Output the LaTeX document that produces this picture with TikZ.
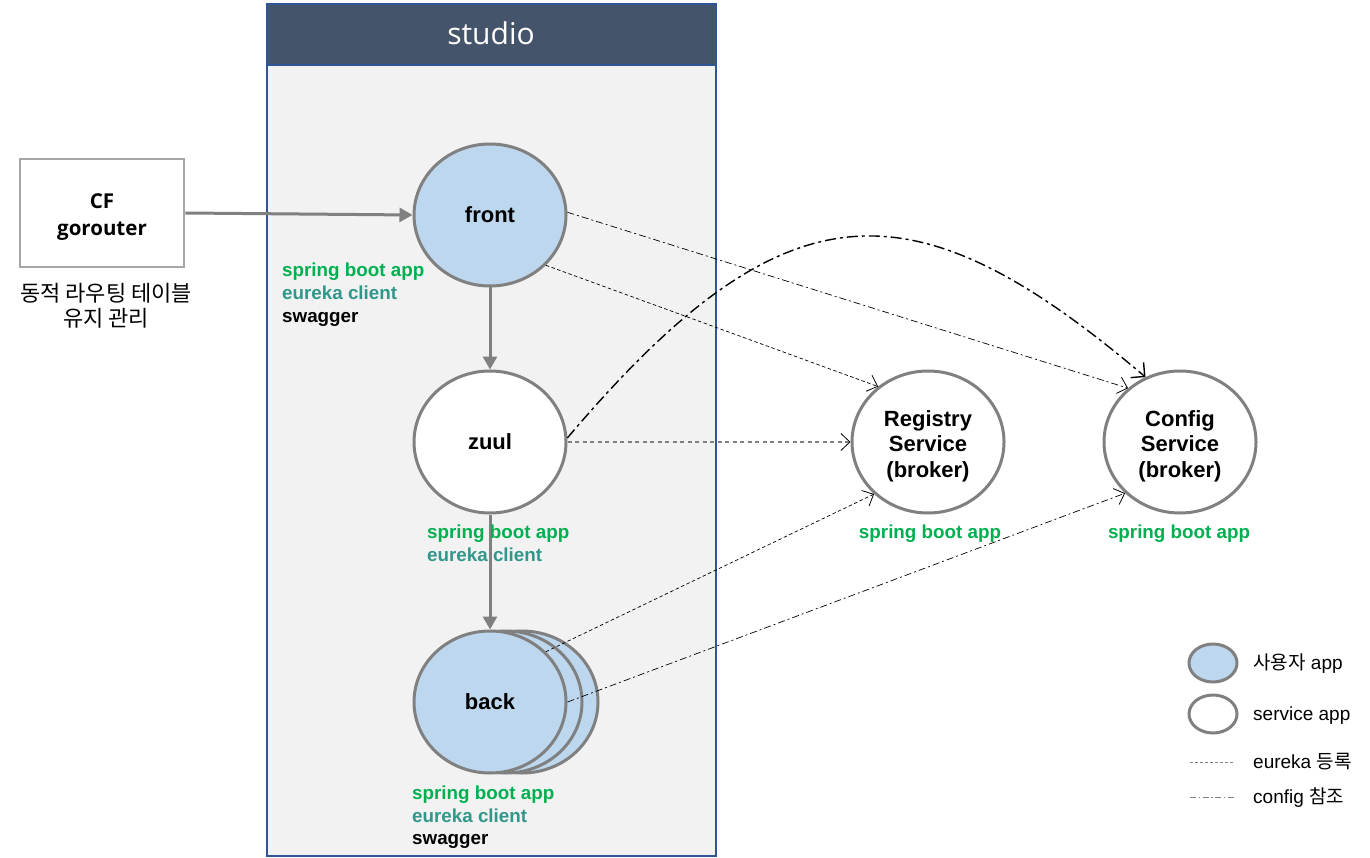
\documentclass[tikz,border=0pt]{standalone}
\usepackage{fontspec}
\setmainfont{Liberation Sans}
\newfontfamily\kr{Noto Sans CJK KR}
\newfontfamily\os{Open Sans}
\usetikzlibrary{shapes.geometric,arrows.meta}
\definecolor{hdr}{HTML}{44546A}
\definecolor{bblue}{HTML}{2F5597}
\definecolor{panel}{HTML}{F2F2F2}
\definecolor{ufill}{HTML}{BDD7EE}
\definecolor{egray}{HTML}{808080}
\definecolor{boxgray}{HTML}{A6A6A6}
\definecolor{sgreen}{HTML}{00B050}
\definecolor{steal}{HTML}{31978A}
\tikzset{
  app/.style={ellipse, draw=egray, line width=3pt, minimum width=152pt, minimum height=142pt, inner sep=0pt},
  userapp/.style={app, fill=ufill},
  svcapp/.style={app, fill=white},
  ntext/.style={font=\bfseries\fontsize{22}{25.5}\selectfont, align=center},
  lbl/.style={anchor=west, inner sep=0pt, text height=13pt, text depth=4pt, font=\bfseries\fontsize{18.8}{20}\selectfont},
  lblc/.style={lbl, anchor=center},
  solidarr/.style={draw=egray, line width=3pt, -{Triangle[length=13pt,width=14pt]}},
  eureka/.style={draw=black, line width=0.7pt, dash pattern=on 3.5pt off 2.5pt, -{Straight Barb[length=9pt,width=17pt,line width=0.8pt]}},
  eurekag/.style={draw=egray, line width=1.8pt, dash pattern=on 4pt off 3.5pt, -{Straight Barb[length=9pt,width=17pt,line width=0.8pt,color=black]}},
  configl/.style={draw=black, line width=0.7pt, dash pattern=on 7pt off 3pt on 2pt off 3pt, -{Straight Barb[length=9pt,width=17pt,line width=0.8pt]}},
  configc/.style={draw=black, line width=1.4pt, dash pattern=on 11pt off 4pt on 3pt off 4pt, -{Straight Barb[length=10pt,width=20pt,line width=1.4pt]}},
  legtext/.style={anchor=west, inner sep=0pt, text height=14pt, text depth=4pt, font=\fontsize{19}{21}\selectfont},
  legell/.style={ellipse, draw=egray, line width=3pt, minimum width=48pt, minimum height=38pt, inner sep=0pt},
}
\begin{document}
\begin{tikzpicture}[x=1pt,y=-1pt]
\useasboundingbox (0,0) rectangle (1370,858);
\fill[white] (0,0) rectangle (1370,858);
% studio container
\fill[panel] (267,4) rectangle (716,856);
\fill[hdr] (267,4) rectangle (716,65);
\draw[bblue, line width=1.5pt] (267,4) rectangle (716,856);
\draw[bblue, line width=1.5pt] (267,65) -- (716,65);
\node[text=white, font=\os\fontsize{30}{34}\selectfont] (title) at (491,33) {studio};
% CF gorouter
\node[draw=boxgray, line width=2.8pt, fill=white, minimum width=164pt, minimum height=108pt, inner sep=0pt] (cf) at (102,213) {};
\node[align=center, font=\os\bfseries\fontsize{20.5}{27}\selectfont] (cft) at (102,217) {CF\\gorouter};
\node[font=\kr\fontsize{22}{25}\selectfont, align=center] (cfnote) at (106,306) {동적 라우팅 테이블\\유지 관리};
% back stack
\node[userapp] (back3) at (522,702) {};
\node[userapp] (back2) at (506,702) {};
\node[userapp, ntext] (back) at (490,702) {back};
% nodes
\node[userapp, ntext] (front) at (490,215) {front};
\node[svcapp, ntext] (zuul) at (490,442) {zuul};
\node[svcapp] (reg) at (928,442) {};
\node[ntext] (regt) at (928,446) {Registry\\Service\\(broker)};
\node[svcapp] (cfg) at (1180,442) {};
\node[ntext] (cfgt) at (1180,446) {Config\\Service\\(broker)};
% solid arrows
\draw[solidarr] (cf.east) -- (front.west);
\draw[solidarr] (front.south) -- (zuul.north);
\draw[solidarr] (zuul.south) -- (back.north);
% eureka arrows
\draw[eureka] (front.-42) -- (reg.132);
\draw[eurekag] (zuul.east) -- (reg.west);
\draw[eureka] (back.42) -- (reg.-136);
% config arrows
\draw[configl] (front.2) -- (cfg.134);
\draw[configc] (zuul.3) .. controls (786,180) and (913,180) .. (cfg.118);
\draw[configl] (back.east) -- (cfg.-137);
% labels
\node[lbl, text=sgreen] (fl1) at (282,272) {spring boot app};
\node[lbl, text=steal] (fl2) at (282,295) {eureka client};
\node[lbl, text=black] (fl3) at (282,318) {swagger};
\node[lbl, text=sgreen] (zl1) at (427,534) {spring boot app};
\node[lbl, text=steal] (zl2) at (427,557) {eureka client};
\node[lbl, text=sgreen] (bl1) at (412,795) {spring boot app};
\node[lbl, text=steal] (bl2) at (412,818) {eureka client};
\node[lbl, text=black] (bl3) at (412,840) {swagger};
\node[lblc, text=sgreen] (rl1) at (930,534) {spring boot app};
\node[lblc, text=sgreen] (cl1) at (1179,534) {spring boot app};
% legend
\node[legell, fill=ufill] (leg1) at (1213,663) {};
\node[legell, fill=white] (leg2) at (1213,714) {};
\node[legtext] (legt1) at (1253,664) {{\kr 사용자} app};
\node[legtext] (legt2) at (1253,715) {service app};
\coordinate (le1a) at (1190,762);
\coordinate (le1b) at (1234,762);
\coordinate (le2a) at (1190,797);
\coordinate (le2b) at (1234,797);
\draw[gray, line width=0.6pt, dash pattern=on 3pt off 2pt] (le1a) -- (le1b);
\draw[gray, line width=0.6pt, dash pattern=on 6pt off 2.5pt on 1.5pt off 2.5pt] (le2a) -- (le2b);
\node[legtext] (legt3) at (1253,763) {eureka {\kr 등록}};
\node[legtext] (legt4) at (1253,798) {config {\kr 참조}};
\end{tikzpicture}
\end{document}
